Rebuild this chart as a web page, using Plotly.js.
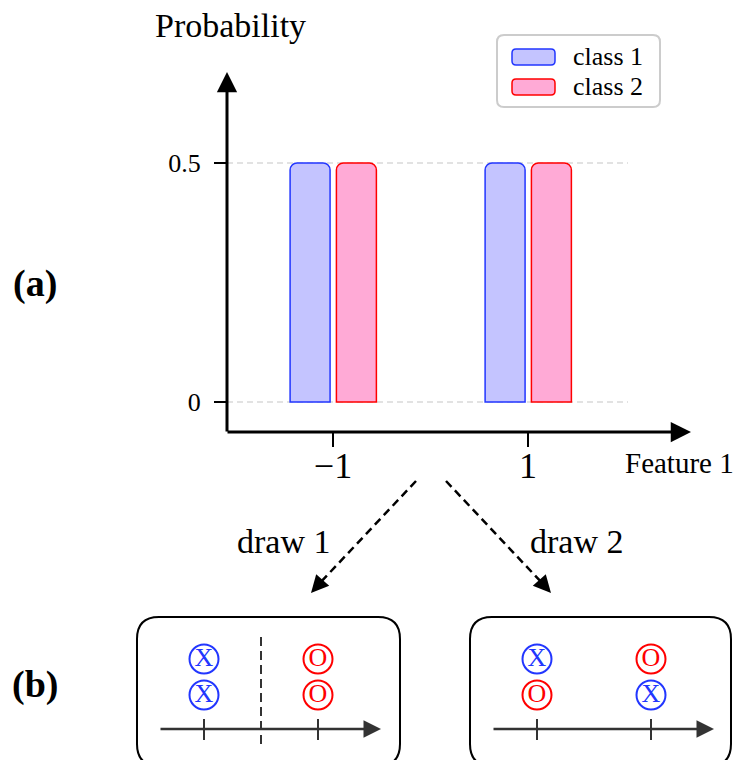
<!DOCTYPE html>
<html><head><meta charset="utf-8">
<script src="https://cdn.plot.ly/plotly-3.0.1.min.js"></script>
<style>body{margin:0;padding:0;background:#fff}</style>
</head><body><div id="chart" style="width:733px;height:760px"></div>
<script>
// ---- data: panel (a) ----
const categories = [-1, 1];
const tickLabels = ['\u22121', '1'];
const class1 = [0.5, 0.5];
const class2 = [0.5, 0.5];
const seriesNames = ['class 1', 'class 2'];
const yTicks = [0, 0.5];
const yTickLabels = ['0', '0.5'];
// ---- data: panel (b) ----
const draw1Pos = [-1, -1, 1, 1];
const draw1Level = [2, 1, 2, 1];
const draw1Label = ['X', 'X', 'O', 'O'];
const draw2Pos = [-1, -1, 1, 1];
const draw2Level = [2, 1, 2, 1];
const draw2Label = ['X', 'O', 'O', 'X'];

const W = 733, H = 760;
const px = x => x / W;
const py = y => 1 - y / H;
const FONT = 'Liberation Serif, Times New Roman, serif';
const BLUE = '#2236ff', RED = '#ff0000';
const FILLS = ['#c4c4ff', '#ffaad6'];
const EDGES = [BLUE, RED];
const colorOf = l => l === 'X' ? BLUE : RED;

function roundRect(x0, y0, x1, y1, r) {
  const P = (x, y) => px(x).toFixed(5) + ',' + py(y).toFixed(5);
  return 'M' + P(x0 + r, y0) + ' L' + P(x1 - r, y0) + ' Q' + P(x1, y0) + ' ' + P(x1, y0 + r) +
    ' L' + P(x1, y1 - r) + ' Q' + P(x1, y1) + ' ' + P(x1 - r, y1) +
    ' L' + P(x0 + r, y1) + ' Q' + P(x0, y1) + ' ' + P(x0, y1 - r) +
    ' L' + P(x0, y0 + r) + ' Q' + P(x0, y0) + ' ' + P(x0 + r, y0) + ' Z';
}

const traces = [
  {type: 'bar', x: categories, y: class1, name: seriesNames[0], width: 0.41, offset: -0.44,
   marker: {color: FILLS[0], line: {color: EDGES[0], width: 1.5}, cornerradius: 7}, hoverinfo: 'skip'},
  {type: 'bar', x: categories, y: class2, name: seriesNames[1], width: 0.41, offset: 0.035,
   marker: {color: FILLS[1], line: {color: EDGES[1], width: 1.5}, cornerradius: 7}, hoverinfo: 'skip'},
  {type: 'scatter', mode: 'markers+text', x: draw1Pos, y: draw1Level, text: draw1Label,
   xaxis: 'x2', yaxis: 'y2', showlegend: false, hoverinfo: 'skip', textposition: 'middle center',
   textfont: {family: FONT, size: 26, color: draw1Label.map(colorOf)},
   marker: {symbol: 'circle-open', size: 29, color: draw1Label.map(colorOf), line: {width: 2}}},
  {type: 'scatter', mode: 'markers+text', x: draw2Pos, y: draw2Level, text: draw2Label,
   xaxis: 'x3', yaxis: 'y3', showlegend: false, hoverinfo: 'skip', textposition: 'middle center',
   textfont: {family: FONT, size: 26, color: draw2Label.map(colorOf)},
   marker: {symbol: 'circle-open', size: 29, color: draw2Label.map(colorOf), line: {width: 2}}}
];

const subRange = [(159 - 261) / 57, (378 - 261) / 57];
const subY = [1 - (745 - 695) / 36, 2 + (659 - 637) / 36];

const shapes = [
  // panel (b) boxes
  {type: 'path', xref: 'paper', yref: 'paper', path: roundRect(137, 617, 400, 766, 22), line: {color: '#000', width: 2}, layer: 'below'},
  {type: 'path', xref: 'paper', yref: 'paper', path: roundRect(470, 617, 731, 766, 22), line: {color: '#000', width: 2}, layer: 'below'},
  // legend frame
  {type: 'path', xref: 'paper', yref: 'paper', path: roundRect(497, 35, 660, 107, 7), line: {color: '#cccccc', width: 2}, fillcolor: '#fff'},
  // dashed arrow shafts
  {type: 'line', xref: 'paper', yref: 'paper', x0: px(416), y0: py(481), x1: px(319), y1: py(584), line: {color: '#000', width: 2.5, dash: '8px,5px'}},
  {type: 'line', xref: 'paper', yref: 'paper', x0: px(446), y0: py(481), x1: px(543), y1: py(584), line: {color: '#000', width: 2.5, dash: '8px,5px'}},
  // dashed separator in draw 1
  {type: 'line', xref: 'x2', yref: 'paper', x0: 0, x1: 0, y0: py(637), y1: py(745), line: {color: '#333', width: 2, dash: '9px,5px'}}
];
// legend swatches
seriesNames.forEach((n, i) => {
  const cy = 57 + 30 * i;
  shapes.push({type: 'path', xref: 'paper', yref: 'paper', path: roundRect(512, cy - 8, 555, cy + 8, 4),
    fillcolor: FILLS[i], line: {color: EDGES[i], width: 1.5}});
});
// tick marks on the small axes
categories.forEach(c => {
  ['x2', 'x3'].forEach(ax => shapes.push({type: 'line', xref: ax, yref: 'paper', x0: c, x1: c,
    y0: py(719), y1: py(740), line: {color: '#333', width: 2}}));
});

const ann = (text, x, y, size, extra) => Object.assign({text, x: px(x), y: py(y), xref: 'paper', yref: 'paper',
  xanchor: 'center', yanchor: 'middle',
  showarrow: false, font: {family: FONT, size, color: '#000'}}, extra || {});
const arrow = (tipX, tipY, tailX, tailY, color, width, size) => ({x: px(tipX), y: py(tipY), xref: 'paper', yref: 'paper',
  ax: tailX - tipX, ay: tailY - tipY, axref: 'pixel', ayref: 'pixel', text: '', showarrow: true,
  arrowhead: 2, arrowsize: size, arrowwidth: width, arrowcolor: color});

const annotations = [
  ann('Probability', 230, 26, 34),
  ann('Feature 1', 623, 463, 29, {xanchor: 'left'}),
  ann('draw 1', 283, 541, 34),
  ann('draw 2', 576, 541, 34),
  ann('<b>(a)</b>', 35, 283, 38),
  ann('<b>(b)</b>', 35, 684, 38),
  arrow(691, 432, 226, 432, '#000', 3, 1.35),
  arrow(227, 72, 227, 433, '#000', 3, 1.35),
  arrow(311, 593, 320, 583, '#000', 2.5, 1.4),
  arrow(551, 593, 542, 583, '#000', 2.5, 1.4),
  arrow(381, 729, 159, 729, '#333', 2.5, 1.4),
  arrow(714, 729, 492, 729, '#333', 2.5, 1.4)
];
seriesNames.forEach((n, i) => annotations.push(ann(n, 571, 57 + 30 * i, 26, {xanchor: 'left'})));

const layout = {
  width: W, height: H, margin: {l: 0, r: 0, t: 0, b: 0},
  paper_bgcolor: '#fff', plot_bgcolor: 'rgba(0,0,0,0)',
  font: {family: FONT, color: '#000'},
  barmode: 'overlay',
  xaxis: {domain: [px(227), px(628)], range: [(227 - 430.5) / 97.5, (628 - 430.5) / 97.5],
    tickvals: categories, ticktext: tickLabels, ticks: 'outside', ticklen: 14, tickwidth: 2, tickcolor: '#000',
    showgrid: false, zeroline: false, showline: false, tickfont: {size: 36, family: FONT}, ticklabelstandoff: -12},
  yaxis: {domain: [py(432), py(85)], range: [-(432 - 402) / 478, (402 - 85) / 478],
    tickvals: yTicks, ticktext: yTickLabels, ticks: 'outside', ticklen: 12, tickwidth: 2, tickcolor: '#000',
    showgrid: true, gridcolor: '#e2e2e2', gridwidth: 1.5, griddash: '6px,4px', zeroline: false, showline: false,
    tickfont: {size: 26, family: FONT}, ticklabelstandoff: 8},
  xaxis2: {domain: [px(159), px(378)], range: subRange, visible: false, anchor: 'y2'},
  yaxis2: {domain: [py(745), py(637)], range: subY, visible: false, anchor: 'x2'},
  xaxis3: {domain: [px(492), px(711)], range: subRange, visible: false, anchor: 'y3'},
  yaxis3: {domain: [py(745), py(637)], range: subY, visible: false, anchor: 'x3'},
  showlegend: false,
  shapes, annotations
};

Plotly.newPlot('chart', traces, layout, {displayModeBar: false, staticPlot: true});
</script></body></html>
